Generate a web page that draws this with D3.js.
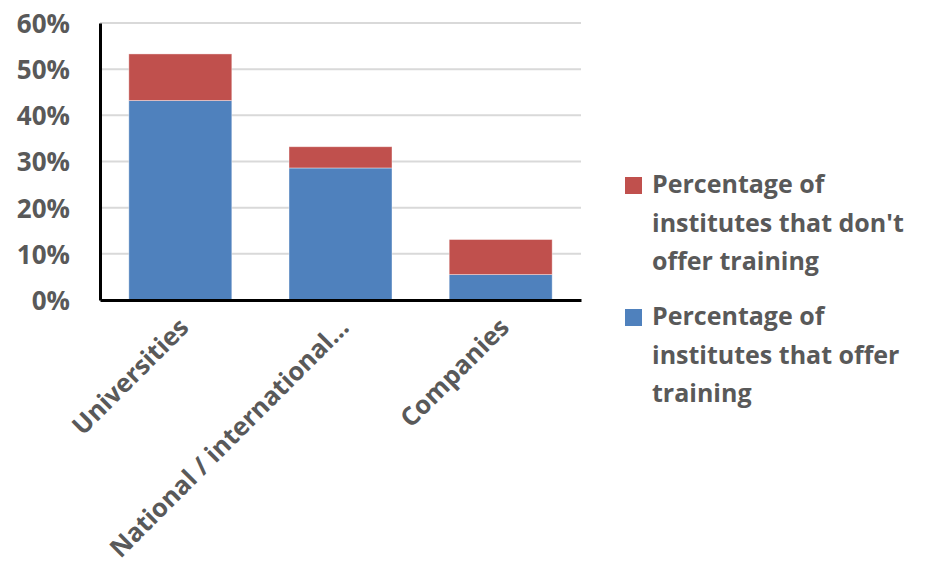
<!DOCTYPE html>
<html>
<head>
<meta charset="utf-8">
<script src="https://cdn.jsdelivr.net/npm/d3@7"></script>
<style>
  body { margin: 0; background: #fff; }
  svg text { font-family: "Open Sans", sans-serif; font-weight: bold; fill: #595959; }
</style>
</head>
<body>
<svg id="chart" width="934" height="568"></svg>
<script>
// values (fractions)
var categories = ['Universities', 'National / international\u2026', 'Companies'];
var offerTraining = [0.432, 0.286, 0.055];
var noTraining = [0.101, 0.046, 0.076];
var yTicks = [0, 0.1, 0.2, 0.3, 0.4, 0.5, 0.6];
var legendLabels = [
    ["Percentage of", "institutes that don't", "offer training"],
    ["Percentage of", "institutes that offer", "training"]
];

var blue = '#4F81BD';
var red = '#C0504D';

var svg = d3.select('#chart');
var plotLeft = 100, plotRight = 581, plotTop = 23, plotBottom = 300;

var x = d3.scaleBand()
    .domain(categories)
    .range([plotLeft, plotRight])
    .paddingInner(0.357)
    .paddingOuter(0.18);

var y = d3.scaleLinear()
    .domain([0, 0.6])
    .range([plotBottom, plotTop]);

// gridlines
svg.append('g')
    .selectAll('line')
    .data(yTicks.slice(1))
    .enter().append('line')
    .attr('x1', plotLeft)
    .attr('x2', plotRight)
    .attr('y1', d => y(d))
    .attr('y2', d => y(d))
    .attr('stroke', '#d9d9d9')
    .attr('stroke-width', 2);

var rows = categories.map((c, i) => ({ cat: c, offer: offerTraining[i], no: noTraining[i] }));
var stack = d3.stack().keys(['offer', 'no'])(rows);
var colors = { offer: blue, no: red };

svg.append('g')
    .selectAll('g')
    .data(stack)
    .enter().append('g')
    .attr('fill', d => colors[d.key])
    .selectAll('rect')
    .data(d => d)
    .enter().append('rect')
    .attr('x', d => x(d.data.cat))
    .attr('width', x.bandwidth())
    .attr('y', d => y(d[1]))
    .attr('height', d => y(d[0]) - y(d[1]))
    .attr('stroke', '#ffffff')
    .attr('stroke-opacity', 0.5)
    .attr('stroke-width', 0.8);

// y axis
var yAxis = svg.append('g')
    .attr('transform', 'translate(' + plotLeft + ',0)')
    .call(d3.axisLeft(y).tickValues(yTicks).tickFormat(d3.format('.0%')).tickSize(0).tickPadding(30));
yAxis.select('.domain').attr('stroke', '#000').attr('stroke-width', 3);
yAxis.selectAll('text')
    .style('font-size', '26px')
    .attr('dy', '0.36em');

// x axis
var xAxis = svg.append('g')
    .attr('transform', 'translate(0,' + plotBottom + ')')
    .call(d3.axisBottom(x).tickSize(0).tickPadding(0));
xAxis.select('.domain').attr('stroke', '#000').attr('stroke-width', 3);
xAxis.selectAll('text')
    .style('font-size', '25.5px')
    .attr('text-anchor', 'end')
    .attr('dy', '0')
    .attr('transform', 'translate(10,29) rotate(-45)');

// legend
var legend = svg.append('g');
var legendItems = [
    { color: red, lines: legendLabels[0], y: 177 },
    { color: blue, lines: legendLabels[1], y: 309 }
];
legendItems.forEach(function (item) {
    legend.append('rect')
        .attr('x', 625)
        .attr('y', item.y)
        .attr('width', 17)
        .attr('height', 17)
        .attr('fill', item.color);
    var t = legend.append('text')
        .attr('x', 652)
        .attr('y', item.y + 16)
        .style('font-size', '25px');
    item.lines.forEach(function (line, i) {
        t.append('tspan')
            .attr('x', 652)
            .attr('dy', i === 0 ? 0 : 38.5)
            .text(line);
    });
});
</script>
</body>
</html>
